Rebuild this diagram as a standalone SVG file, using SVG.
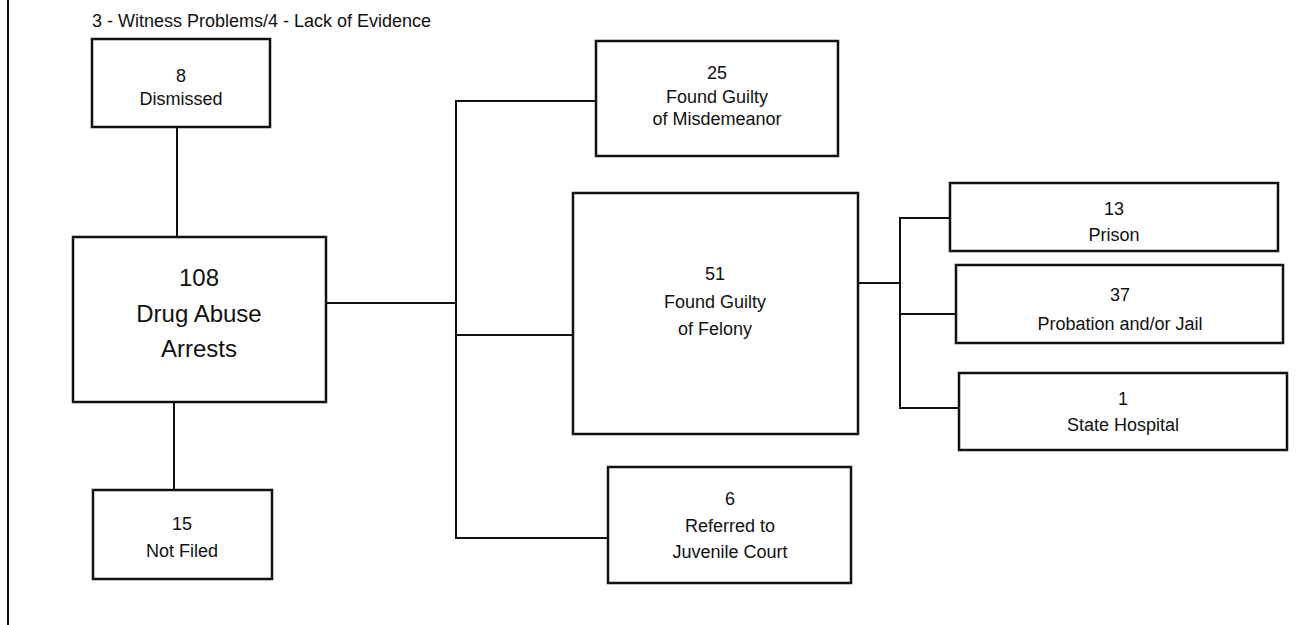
<svg xmlns="http://www.w3.org/2000/svg" width="1298" height="625" viewBox="0 0 1298 625">
<style>
.box{fill:#fff;stroke:#111;stroke-width:2.5}
.t{font-family:"Liberation Sans",Arial,sans-serif;font-size:18px;fill:#111;text-anchor:middle}
.big{font-size:24px}
.c{fill:none;stroke:#111;stroke-width:2}
</style>
<rect width="1298" height="625" fill="#fff"/>
<line x1="8" y1="0" x2="8" y2="625" stroke="#111" stroke-width="2"/>
<text x="92" y="27" class="t" style="text-anchor:start">3 - Witness Problems/4 - Lack of Evidence</text>
<g id="connectors">
<path class="c" d="M177 127V237"/>
<path class="c" d="M174 402V490"/>
<path class="c" d="M326 303H456"/>
<path class="c" d="M596 101H456V538H608"/>
<path class="c" d="M456 335H573"/>
<path class="c" d="M858 283H900"/>
<path class="c" d="M950 218H900V408H959"/>
<path class="c" d="M900 314H956"/>
</g>
<g id="dismissed"><rect class="box" x="92" y="39" width="178" height="88"/>
<text class="t" x="181" y="82">8</text><text class="t" x="181" y="105">Dismissed</text></g>
<g id="arrests"><rect class="box" x="73" y="237" width="253" height="165"/>
<text class="t big" x="199" y="286">108</text><text class="t big" x="199" y="322">Drug Abuse</text><text class="t big" x="199" y="357">Arrests</text></g>
<g id="notfiled"><rect class="box" x="93" y="490" width="179" height="89"/>
<text class="t" x="182" y="530">15</text><text class="t" x="182" y="557">Not Filed</text></g>
<g id="misdemeanor"><rect class="box" x="596" y="41" width="242" height="115"/>
<text class="t" x="717" y="79">25</text><text class="t" x="717" y="103">Found Guilty</text><text class="t" x="717" y="125">of Misdemeanor</text></g>
<g id="felony"><rect class="box" x="573" y="193" width="285" height="241"/>
<text class="t" x="715" y="280">51</text><text class="t" x="715" y="308">Found Guilty</text><text class="t" x="715" y="335">of Felony</text></g>
<g id="juvenile"><rect class="box" x="608" y="467" width="243" height="116"/>
<text class="t" x="730" y="505">6</text><text class="t" x="730" y="532">Referred to</text><text class="t" x="730" y="558">Juvenile Court</text></g>
<g id="prison"><rect class="box" x="950" y="183" width="328" height="68"/>
<text class="t" x="1114" y="215">13</text><text class="t" x="1114" y="241">Prison</text></g>
<g id="probation"><rect class="box" x="956" y="265" width="327" height="78"/>
<text class="t" x="1120" y="301">37</text><text class="t" x="1120" y="330">Probation and/or Jail</text></g>
<g id="hospital"><rect class="box" x="959" y="373" width="328" height="77"/>
<text class="t" x="1123" y="405">1</text><text class="t" x="1123" y="431">State Hospital</text></g>
</svg>
